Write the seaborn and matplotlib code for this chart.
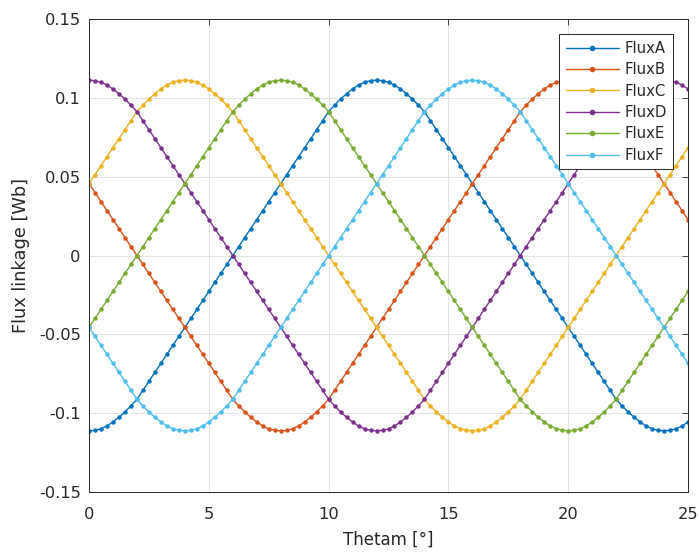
import numpy as np
import pandas as pd
import matplotlib
matplotlib.use("Agg")
import matplotlib.pyplot as plt
import seaborn as sns

# Rotor angle grid (0 to 25 deg, 0.25 deg step)
theta = np.linspace(0.0, 25.0, 101)

flux_a = [
    -0.1112, -0.1109, -0.1099, -0.1081, -0.1056, -0.1026, -0.0992, -0.0954,
    -0.0912, -0.0855, -0.0798, -0.0741, -0.0684, -0.0627, -0.0570, -0.0513,
    -0.0456, -0.0399, -0.0342, -0.0285, -0.0228, -0.0171, -0.0114, -0.0057,
    0.0000, 0.0057, 0.0114, 0.0171, 0.0228, 0.0285, 0.0342, 0.0399,
    0.0456, 0.0513, 0.0570, 0.0627, 0.0684, 0.0741, 0.0798, 0.0855,
    0.0912, 0.0954, 0.0992, 0.1026, 0.1056, 0.1081, 0.1099, 0.1109,
    0.1112, 0.1109, 0.1099, 0.1081, 0.1056, 0.1026, 0.0992, 0.0954,
    0.0912, 0.0855, 0.0798, 0.0741, 0.0684, 0.0627, 0.0570, 0.0513,
    0.0456, 0.0399, 0.0342, 0.0285, 0.0228, 0.0171, 0.0114, 0.0057,
    0.0000, -0.0057, -0.0114, -0.0171, -0.0228, -0.0285, -0.0342, -0.0399,
    -0.0456, -0.0513, -0.0570, -0.0627, -0.0684, -0.0741, -0.0798, -0.0855,
    -0.0912, -0.0954, -0.0992, -0.1026, -0.1056, -0.1081, -0.1099, -0.1109,
    -0.1112, -0.1109, -0.1099, -0.1081, -0.1056,
]

flux_b = [
    0.0456, 0.0399, 0.0342, 0.0285, 0.0228, 0.0171, 0.0114, 0.0057,
    0.0000, -0.0057, -0.0114, -0.0171, -0.0228, -0.0285, -0.0342, -0.0399,
    -0.0456, -0.0513, -0.0570, -0.0627, -0.0684, -0.0741, -0.0798, -0.0855,
    -0.0912, -0.0954, -0.0992, -0.1026, -0.1056, -0.1081, -0.1099, -0.1109,
    -0.1112, -0.1109, -0.1099, -0.1081, -0.1056, -0.1026, -0.0992, -0.0954,
    -0.0912, -0.0855, -0.0798, -0.0741, -0.0684, -0.0627, -0.0570, -0.0513,
    -0.0456, -0.0399, -0.0342, -0.0285, -0.0228, -0.0171, -0.0114, -0.0057,
    0.0000, 0.0057, 0.0114, 0.0171, 0.0228, 0.0285, 0.0342, 0.0399,
    0.0456, 0.0513, 0.0570, 0.0627, 0.0684, 0.0741, 0.0798, 0.0855,
    0.0912, 0.0954, 0.0992, 0.1026, 0.1056, 0.1081, 0.1099, 0.1109,
    0.1112, 0.1109, 0.1099, 0.1081, 0.1056, 0.1026, 0.0992, 0.0954,
    0.0912, 0.0855, 0.0798, 0.0741, 0.0684, 0.0627, 0.0570, 0.0513,
    0.0456, 0.0399, 0.0342, 0.0285, 0.0228,
]

flux_c = [
    0.0456, 0.0513, 0.0570, 0.0627, 0.0684, 0.0741, 0.0798, 0.0855,
    0.0912, 0.0954, 0.0992, 0.1026, 0.1056, 0.1081, 0.1099, 0.1109,
    0.1112, 0.1109, 0.1099, 0.1081, 0.1056, 0.1026, 0.0992, 0.0954,
    0.0912, 0.0855, 0.0798, 0.0741, 0.0684, 0.0627, 0.0570, 0.0513,
    0.0456, 0.0399, 0.0342, 0.0285, 0.0228, 0.0171, 0.0114, 0.0057,
    0.0000, -0.0057, -0.0114, -0.0171, -0.0228, -0.0285, -0.0342, -0.0399,
    -0.0456, -0.0513, -0.0570, -0.0627, -0.0684, -0.0741, -0.0798, -0.0855,
    -0.0912, -0.0954, -0.0992, -0.1026, -0.1056, -0.1081, -0.1099, -0.1109,
    -0.1112, -0.1109, -0.1099, -0.1081, -0.1056, -0.1026, -0.0992, -0.0954,
    -0.0912, -0.0855, -0.0798, -0.0741, -0.0684, -0.0627, -0.0570, -0.0513,
    -0.0456, -0.0399, -0.0342, -0.0285, -0.0228, -0.0171, -0.0114, -0.0057,
    0.0000, 0.0057, 0.0114, 0.0171, 0.0228, 0.0285, 0.0342, 0.0399,
    0.0456, 0.0513, 0.0570, 0.0627, 0.0684,
]

flux_d = [
    0.1112, 0.1109, 0.1099, 0.1081, 0.1056, 0.1026, 0.0992, 0.0954,
    0.0912, 0.0855, 0.0798, 0.0741, 0.0684, 0.0627, 0.0570, 0.0513,
    0.0456, 0.0399, 0.0342, 0.0285, 0.0228, 0.0171, 0.0114, 0.0057,
    0.0000, -0.0057, -0.0114, -0.0171, -0.0228, -0.0285, -0.0342, -0.0399,
    -0.0456, -0.0513, -0.0570, -0.0627, -0.0684, -0.0741, -0.0798, -0.0855,
    -0.0912, -0.0954, -0.0992, -0.1026, -0.1056, -0.1081, -0.1099, -0.1109,
    -0.1112, -0.1109, -0.1099, -0.1081, -0.1056, -0.1026, -0.0992, -0.0954,
    -0.0912, -0.0855, -0.0798, -0.0741, -0.0684, -0.0627, -0.0570, -0.0513,
    -0.0456, -0.0399, -0.0342, -0.0285, -0.0228, -0.0171, -0.0114, -0.0057,
    0.0000, 0.0057, 0.0114, 0.0171, 0.0228, 0.0285, 0.0342, 0.0399,
    0.0456, 0.0513, 0.0570, 0.0627, 0.0684, 0.0741, 0.0798, 0.0855,
    0.0912, 0.0954, 0.0992, 0.1026, 0.1056, 0.1081, 0.1099, 0.1109,
    0.1112, 0.1109, 0.1099, 0.1081, 0.1056,
]

flux_e = [
    -0.0456, -0.0399, -0.0342, -0.0285, -0.0228, -0.0171, -0.0114, -0.0057,
    0.0000, 0.0057, 0.0114, 0.0171, 0.0228, 0.0285, 0.0342, 0.0399,
    0.0456, 0.0513, 0.0570, 0.0627, 0.0684, 0.0741, 0.0798, 0.0855,
    0.0912, 0.0954, 0.0992, 0.1026, 0.1056, 0.1081, 0.1099, 0.1109,
    0.1112, 0.1109, 0.1099, 0.1081, 0.1056, 0.1026, 0.0992, 0.0954,
    0.0912, 0.0855, 0.0798, 0.0741, 0.0684, 0.0627, 0.0570, 0.0513,
    0.0456, 0.0399, 0.0342, 0.0285, 0.0228, 0.0171, 0.0114, 0.0057,
    0.0000, -0.0057, -0.0114, -0.0171, -0.0228, -0.0285, -0.0342, -0.0399,
    -0.0456, -0.0513, -0.0570, -0.0627, -0.0684, -0.0741, -0.0798, -0.0855,
    -0.0912, -0.0954, -0.0992, -0.1026, -0.1056, -0.1081, -0.1099, -0.1109,
    -0.1112, -0.1109, -0.1099, -0.1081, -0.1056, -0.1026, -0.0992, -0.0954,
    -0.0912, -0.0855, -0.0798, -0.0741, -0.0684, -0.0627, -0.0570, -0.0513,
    -0.0456, -0.0399, -0.0342, -0.0285, -0.0228,
]

flux_f = [
    -0.0456, -0.0513, -0.0570, -0.0627, -0.0684, -0.0741, -0.0798, -0.0855,
    -0.0912, -0.0954, -0.0992, -0.1026, -0.1056, -0.1081, -0.1099, -0.1109,
    -0.1112, -0.1109, -0.1099, -0.1081, -0.1056, -0.1026, -0.0992, -0.0954,
    -0.0912, -0.0855, -0.0798, -0.0741, -0.0684, -0.0627, -0.0570, -0.0513,
    -0.0456, -0.0399, -0.0342, -0.0285, -0.0228, -0.0171, -0.0114, -0.0057,
    0.0000, 0.0057, 0.0114, 0.0171, 0.0228, 0.0285, 0.0342, 0.0399,
    0.0456, 0.0513, 0.0570, 0.0627, 0.0684, 0.0741, 0.0798, 0.0855,
    0.0912, 0.0954, 0.0992, 0.1026, 0.1056, 0.1081, 0.1099, 0.1109,
    0.1112, 0.1109, 0.1099, 0.1081, 0.1056, 0.1026, 0.0992, 0.0954,
    0.0912, 0.0855, 0.0798, 0.0741, 0.0684, 0.0627, 0.0570, 0.0513,
    0.0456, 0.0399, 0.0342, 0.0285, 0.0228, 0.0171, 0.0114, 0.0057,
    0.0000, -0.0057, -0.0114, -0.0171, -0.0228, -0.0285, -0.0342, -0.0399,
    -0.0456, -0.0513, -0.0570, -0.0627, -0.0684,
]

series_names = ["FluxA", "FluxB", "FluxC", "FluxD", "FluxE", "FluxF"]
series_colors = ["#0072BD", "#D95319", "#EDB120", "#7E2F8E", "#77AC30", "#4DBEEE"]

x_ticks = [0, 5, 10, 15, 20, 25]
x_tick_labels = ["0", "5", "10", "15", "20", "25"]
y_ticks = [-0.15, -0.1, -0.05, 0.0, 0.05, 0.1, 0.15]
y_tick_labels = ["-0.15", "-0.1", "-0.05", "0", "0.05", "0.1", "0.15"]

frames = []
for name, vals in zip(series_names,
                      [flux_a, flux_b, flux_c, flux_d, flux_e, flux_f]):
    frames.append(pd.DataFrame({"theta": theta, "flux": vals, "phase": name}))
df = pd.concat(frames, ignore_index=True)

sns.set_theme(style="white")
plt.rcParams["font.family"] = ["DejaVu Sans"]

fig = plt.figure(figsize=(6.99, 5.53), dpi=100)
ax = fig.add_axes([89 / 699, 1 - 492 / 553, 599 / 699, 473 / 553])

sns.lineplot(
    data=df, x="theta", y="flux", hue="phase",
    hue_order=series_names, palette=series_colors,
    marker="o", markersize=3.2, markeredgewidth=0,
    linewidth=1.0, ax=ax, sort=False, estimator=None,
)

ax.set_xlim(0, 25)
ax.set_ylim(-0.15, 0.15)
ax.set_xticks(x_ticks)
ax.set_xticklabels(x_tick_labels)
ax.set_yticks(y_ticks)
ax.set_yticklabels(y_tick_labels)

text_col = "#262626"
ax.tick_params(axis="both", direction="in", length=4, width=0.6,
               color=text_col, labelsize=11.7, labelcolor=text_col,
               top=True, right=True)
ax.tick_params(axis="y", pad=6)
ax.tick_params(axis="x", pad=11)
for sp in ax.spines.values():
    sp.set_visible(True)
    sp.set_color(text_col)
    sp.set_linewidth(0.7)

ax.grid(True, color="#e3e3e3", linewidth=0.7)
ax.set_axisbelow(True)

ax.set_xlabel("Thetam [°]", fontsize=12, color=text_col, labelpad=6)
ax.set_ylabel("Flux linkage [Wb]", fontsize=12.8, color=text_col, labelpad=6)

leg = ax.legend(loc="upper right", bbox_to_anchor=(0.9755, 0.968),
                fontsize=10.7, frameon=True, fancybox=False,
                borderpad=0.45, labelspacing=0.43, handlelength=3.6,
                handletextpad=0.35, borderaxespad=0.0)
leg.get_frame().set_edgecolor(text_col)
leg.get_frame().set_linewidth(0.7)
leg.get_frame().set_facecolor("white")
leg.get_frame().set_alpha(1.0)
for line in leg.get_lines():
    line.set_linewidth(1.0)
    line.set_markersize(4)
    line.set_markevery([1])
    line.set_marker("o")

fig.savefig("out.png", dpi=100)
